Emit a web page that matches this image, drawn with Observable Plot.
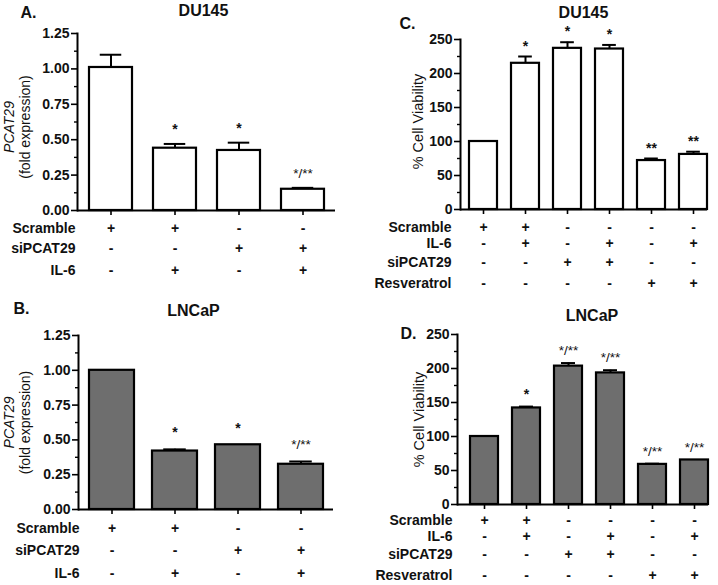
<!DOCTYPE html>
<html><head><meta charset="utf-8">
<script src="https://cdn.jsdelivr.net/npm/d3@7"></script>
<script src="https://cdn.jsdelivr.net/npm/@observablehq/plot@0.6"></script>
<style>
body{margin:0;background:#fff;}
#root{position:relative;width:718px;height:585px;font-family:"Liberation Sans",Arial,sans-serif;background:#fff;}
.panel{position:absolute;}
</style></head><body><div id="root"></div>
<script>
// ---- Panel A: DU145 PCAT29 expression ----
const groupsA = ["a1","a2","a3","a4"];
const meanA = [1.01, 0.44, 0.424, 0.15];
const errA = [0.09, 0.03, 0.055, 0.01];
const starsA = ["", "*", "*", "*/**"];
const rowNamesA = ["Scramble", "siPCAT29", "IL-6"];
const signsA = [["+","+","-","-"],["-","-","+","+"],["-","+","-","+"]];
const ticksA = [0, 0.25, 0.5, 0.75, 1.0, 1.25];
const minorA = [0.125, 0.375, 0.625, 0.875, 1.125];

// ---- Panel B: LNCaP PCAT29 expression ----
const groupsB = ["b1","b2","b3","b4"];
const meanB = [1.0, 0.42, 0.465, 0.325];
const errB = [0, 0.012, 0, 0.02];
const starsB = ["", "*", "*", "*/**"];
const rowNamesB = ["Scramble", "siPCAT29", "IL-6"];
const signsB = [["+","+","-","-"],["-","-","+","+"],["-","+","-","+"]];
const ticksB = [0, 0.25, 0.5, 0.75, 1.0, 1.25];
const minorB = [0.125, 0.375, 0.625, 0.875, 1.125];

// ---- Panel C: DU145 cell viability ----
const groupsC = ["c1","c2","c3","c4","c5","c6"];
const meanC = [100, 215, 237, 236, 72, 81];
const errC = [0, 10, 9, 6, 3, 4];
const starsC = ["", "*", "*", "*", "**", "**"];
const rowNamesC = ["Scramble", "IL-6", "siPCAT29", "Resveratrol"];
const signsC = [["+","+","-","-","-","-"],["-","+","-","+","-","+"],["-","-","+","+","-","-"],["-","-","-","-","+","+"]];
const ticksC = [0, 50, 100, 150, 200, 250];
const minorC = [25, 75, 125, 175, 225];

// ---- Panel D: LNCaP cell viability ----
const groupsD = ["d1","d2","d3","d4","d5","d6"];
const meanD = [100, 142, 203.5, 193.5, 59, 65.5];
const errD = [0, 2, 4.5, 4, 1, 0];
const starsD = ["", "*", "*/**", "*/**", "*/**", "*/**"];
const rowNamesD = ["Scramble", "IL-6", "siPCAT29", "Resveratrol"];
const signsD = [["+","+","-","-","-","-"],["-","+","-","+","-","+"],["-","-","+","+","-","-"],["-","-","-","-","+","+"]];
const ticksD = [0, 50, 100, 150, 200, 250];
const minorD = [25, 75, 125, 175, 225];

const FONT = '"Liberation Sans", Arial, sans-serif';

function panel(cfg) {
  const n = cfg.groups.length;
  const step = (cfg.width - cfg.ml - cfg.mr) / (n - cfg.pi + 2 * cfg.po);
  const bw = step * (1 - cfg.pi);
  const data = cfg.groups.map((g, i) => ({g, mean: cfg.mean[i], err: cfg.err[i], star: cfg.stars[i]}));
  const withErr = data.filter(d => d.err > 0);
  const yMax = cfg.ticks[cfg.ticks.length - 1];
  const marks = [
    Plot.barY(data, {x: "g", y: "mean", fill: cfg.fill, stroke: "#000", strokeWidth: 2.2}),
    Plot.ruleX(withErr, {x: "g", y1: "mean", y2: d => d.mean + d.err, stroke: "#000", strokeWidth: 2}),
    Plot.tickY(withErr, {x: "g", y: d => d.mean + d.err, stroke: "#000", strokeWidth: 2, insetLeft: bw / 4, insetRight: bw / 4}),
    Plot.text(data.filter(d => d.star && !d.star.includes("/")), {x: "g", y: d => d.mean + d.err, text: "star", lineAnchor: "bottom", dy: cfg.starDy, fontSize: 14, fontWeight: "bold", fill: "#111"}),
    Plot.text(data.filter(d => d.star.includes("/")), {x: "g", y: d => d.mean + d.err, text: "star", lineAnchor: "bottom", dy: cfg.starDy, fontSize: 13.5, fill: "#111"}),
    Plot.axisY(cfg.ticks, {tickSize: 6, tickPadding: 2, strokeWidth: 1.6, tickFormat: cfg.fmt, fontSize: 14, fontWeight: "bold", label: null, fill: "#111"}),
    Plot.axisY(cfg.minor, {tickSize: 3, strokeWidth: 1.4, tickFormat: () => "", label: null}),
    Plot.axisX({tickSize: 5, strokeWidth: 1.6, tickFormat: () => "", label: null}),
    Plot.frame({anchor: "left", strokeWidth: 2}),
    Plot.ruleY([0], {strokeWidth: 2}),
    // title and panel letter
    Plot.text([cfg.title], {frameAnchor: "top-left", textAnchor: "middle", lineAnchor: "middle", dx: cfg.titleX - cfg.ml, dy: cfg.titleY - cfg.mt, fontSize: 16, fontWeight: "bold", fill: "#111"}),
    Plot.text([cfg.letter], {frameAnchor: "top-left", textAnchor: "start", lineAnchor: "middle", dx: cfg.letterX - cfg.ml, dy: cfg.letterY - cfg.mt, fontSize: 16, fontWeight: "bold", fill: "#111"})
  ];
  // y labels
  cfg.ylabels.forEach(l => {
    marks.push(Plot.text([l.text], {frameAnchor: "left", rotate: -90, lineAnchor: "middle", textAnchor: "middle", dx: l.x - cfg.ml, dy: l.dy, fontSize: l.size, fontStyle: l.italic ? "italic" : "normal", fill: "#111"}));
  });
  // condition table
  cfg.rowNames.forEach((name, r) => {
    marks.push(Plot.text([name], {frameAnchor: "bottom-left", textAnchor: "end", lineAnchor: "middle", dx: cfg.rowDx, dy: cfg.rowDy[r], fontSize: 14, fontWeight: "bold", fill: "#111"}));
    marks.push(Plot.text(cfg.groups, {x: d => d, text: (d, i) => cfg.signs[r][i], frameAnchor: "bottom", lineAnchor: "middle", dy: cfg.rowDy[r], fontSize: 14, fontWeight: "bold", fill: "#111"}));
  });
  const chart = Plot.plot({
    width: cfg.width, height: cfg.height,
    marginLeft: cfg.ml, marginRight: cfg.mr, marginTop: cfg.mt, marginBottom: cfg.mb,
    style: {fontFamily: FONT, background: "transparent", overflow: "visible"},
    x: {type: "band", domain: cfg.groups, paddingInner: cfg.pi, paddingOuter: cfg.po, align: cfg.align, axis: null},
    y: {domain: [0, yMax], axis: null},
    marks
  });
  const div = document.createElement("div");
  div.className = "panel";
  div.style.left = cfg.left + "px";
  div.style.top = cfg.top + "px";
  div.appendChild(chart);
  document.getElementById("root").appendChild(div);
}

const f2 = d3.format(".2f");
const f0 = d3.format("d");

panel({left: 0, top: 0, width: 359, height: 290, ml: 77, mr: 24, mt: 33, mb: 80, pi: 0.333, po: 0.167, align: 0.5,
  groups: groupsA, mean: meanA, err: errA, stars: starsA, rowNames: rowNamesA, signs: signsA, ticks: ticksA, minor: minorA,
  fmt: f2, fill: "#fff", starDy: -10, title: "DU145", titleX: 203, titleY: 10, letter: "A.", letterX: 20, letterY: 12,
  ylabels: [{text: "PCAT29", x: 9, dy: 5, size: 14, italic: true}, {text: "(fold expression)", x: 25, dy: 5, size: 14}],
  rowDx: -2, rowDy: [18, 38, 60]});

panel({left: 0, top: 290, width: 359, height: 295, ml: 78, mr: 26, mt: 45, mb: 76, pi: 0.29, po: 0.16, align: 0.5,
  groups: groupsB, mean: meanB, err: errB, stars: starsB, rowNames: rowNamesB, signs: signsB, ticks: ticksB, minor: minorB,
  fmt: f2, fill: "#6e6e6e", starDy: -12, title: "LNCaP", titleX: 193, titleY: 20, letter: "B.", letterX: 13, letterY: 18,
  ylabels: [{text: "PCAT29", x: 9, dy: 0, size: 14, italic: true}, {text: "(fold expression)", x: 25, dy: 0, size: 14}],
  rowDx: 1, rowDy: [19, 41, 64]});

panel({left: 360, top: 0, width: 358, height: 290, ml: 100, mr: 11, mt: 39, mb: 81, pi: 0.325, po: 0.071, align: 1,
  groups: groupsC, mean: meanC, err: errC, stars: starsC, rowNames: rowNamesC, signs: signsC, ticks: ticksC, minor: minorC,
  fmt: f0, fill: "#fff", starDy: -6, title: "DU145", titleX: 223, titleY: 12, letter: "C.", letterX: 39, letterY: 23,
  ylabels: [{text: "% Cell Viability", x: 57.5, dy: -3, size: 14.5}],
  rowDx: -9, rowDy: [18, 34, 53, 74]});

panel({left: 360, top: 290, width: 358, height: 295, ml: 97, mr: 10, mt: 44, mb: 81, pi: 0.34, po: 0.125, align: 1,
  groups: groupsD, mean: meanD, err: errD, stars: starsD, rowNames: rowNamesD, signs: signsD, ticks: ticksD, minor: minorD,
  fmt: f0, fill: "#6e6e6e", starDy: -8, title: "LNCaP", titleX: 231.5, titleY: 25, letter: "D.", letterX: 40, letterY: 43,
  ylabels: [{text: "% Cell Viability", x: 59, dy: 0, size: 14.5}],
  rowDx: -5, rowDy: [16, 32, 50, 71]});
</script></body></html>
